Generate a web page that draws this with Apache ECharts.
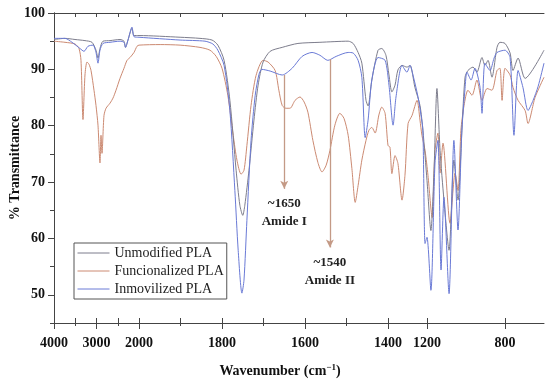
<!DOCTYPE html>
<html><head><meta charset="utf-8">
<script src="https://cdn.jsdelivr.net/npm/echarts@6/dist/echarts.min.js"></script>
<style>html,body{margin:0;padding:0;background:#fff}#c{width:550px;height:380px}</style>
</head><body><div id="c"></div>
<script>
// ---- data (wavenumber cm-1, % transmittance) ----
const seriesNames = ['Unmodified PLA', 'Funcionalized PLA', 'Inmovilized PLA'];
const unmodWn = [4000,3741,3506,3271,3106,3012,2965,2918,2847,2682,2447,2353,2318,2259,2165,2118,2000,1901,1853,1824,1810,1795,1781,1766,1757,1750,1745,1735,1723,1713,1701,1684,1655,1617,1564,1496,1484,1472,1463,1453,1448,1439,1424,1415,1405,1395,1380,1364,1349,1328,1303,1287,1262,1236,1221,1200,1180,1164,1149,1133,1113,1087,1062,1041,1021,1005,990,964,944,918,903,887,867,841,826,800,774,759,733,697,600];
const unmodT  = [95.3,95.5,95.3,95.1,94.8,93.4,92.0,93.7,95.0,95.1,95.3,95.0,93.9,95.2,97.3,96.0,96.0,95.7,95.5,95.2,94.3,91.6,84.5,72.1,65.9,64.1,65.9,72.1,81.0,87.2,91.3,93.2,93.9,94.6,94.8,95.0,94.6,93.0,91.1,84.5,83.5,88.1,93.4,93.7,92.5,89.0,86.0,87.2,89.9,90.7,90.4,90.7,86.8,83.6,79.2,70.3,61.4,72.0,86.6,75.6,66.8,57.9,73.9,66.8,79.2,88.6,89.8,90.4,89.5,92.1,90.7,91.6,88.6,93.9,94.8,94.6,92.9,89.8,92.0,88.4,93.4];

const funcWn = [4000,3741,3506,3412,3365,3318,3271,3224,3176,3129,3059,3012,2965,2918,2894,2871,2824,2776,2682,2612,2541,2447,2353,2282,2212,2118,2047,2000,1949,1901,1853,1829,1814,1800,1786,1773,1764,1754,1747,1740,1730,1718,1701,1689,1672,1663,1655,1646,1636,1624,1612,1602,1593,1581,1569,1559,1549,1540,1528,1516,1506,1496,1487,1479,1472,1463,1453,1446,1439,1431,1422,1415,1407,1400,1390,1380,1364,1349,1328,1313,1297,1277,1251,1236,1226,1210,1195,1174,1159,1144,1133,1118,1082,1056,1041,1026,1010,990,969,944,918,892,867,841,826,815,800,774,759,733,697,682,646,600];
const funcT  = [95.0,94.8,94.5,93.7,91.6,81.1,89.0,91.3,90.9,89.8,86.3,83.6,80.1,73.4,78.3,75.1,81.8,83.1,84.0,84.9,86.3,88.4,90.2,91.6,92.1,93.0,94.1,94.3,94.4,94.3,93.9,93.4,92.3,90.2,85.4,78.3,73.9,71.4,72.1,76.5,83.6,88.9,91.6,91.3,89.8,86.3,83.6,83.1,83.1,84.5,85.1,84.2,82.4,77.4,73.5,71.8,73.0,75.6,80.1,82.2,81.3,78.3,72.4,66.4,69.4,73.9,77.4,79.2,79.7,78.7,81.9,83.3,82.2,76.5,76.2,71.5,74.7,73.3,66.8,71.2,80.4,81.8,84.5,81.0,78.3,75.6,71.2,63.7,75.6,78.7,71.6,76.9,62.7,71.6,68.5,79.2,83.6,86.3,85.4,88.1,84.5,86.6,86.3,89.8,90.2,84.5,90.2,89.0,86.8,84.5,82.7,80.4,85.0,88.6];

const immWn = [4000,3741,3576,3388,3294,3200,3082,3012,2965,2918,2847,2682,2447,2353,2318,2259,2165,2118,2000,1901,1841,1822,1810,1795,1781,1769,1761,1752,1747,1740,1730,1720,1711,1704,1684,1655,1631,1607,1583,1564,1545,1525,1496,1484,1472,1463,1455,1448,1439,1424,1407,1395,1374,1359,1328,1303,1287,1272,1246,1231,1221,1210,1200,1180,1159,1144,1128,1113,1087,1062,1041,1021,1005,995,974,954,928,918,903,877,856,841,800,774,754,733,708,682,656,630,600];
const immT  = [95.5,95.5,94.8,93.7,93.2,94.1,94.3,93.0,91.1,93.4,94.6,94.8,95.0,94.8,93.9,95.2,97.5,95.8,95.7,95.2,95.0,94.5,93.4,90.7,82.7,68.5,57.9,50.3,52.6,63.2,77.4,85.4,89.1,90.0,89.7,89.0,90.2,92.3,93.0,92.5,91.6,92.3,93.0,92.9,91.6,88.6,77.9,81.0,88.1,92.1,91.6,87.2,80.1,85.1,90.7,89.5,90.7,89.0,85.1,81.9,79.2,59.1,60.2,50.8,73.4,77.4,54.4,67.3,50.2,77.4,61.5,79.2,86.6,89.5,88.1,90.2,86.8,82.2,91.1,89.8,92.0,93.0,93.4,92.1,78.3,89.8,86.8,82.7,84.5,87.0,91.1];

const xMajorTicks = [4000,3000,2000,1800,1600,1400,1200,800];
const xMinorTicks = [3500,2500,1900,1700,1500];
const yMajorTicks = [50,60,70,80,90,100];
const amideWn = [1650, 1540];
const amideFromT = [89.0, 91.8];
const amideToT = [68.8, 58.4];
const amideText = ['~1650\nAmide I', '~1540\nAmide II'];

// ---- piecewise axis scale (compressed above 2000 and below 1400) ----
function f(wn){
  if (wn >= 2000) return (4000 - wn) * 0.0425;
  if (wn >= 1400) return 85 + (2000 - wn) * 0.415;
  return 334 + (1400 - wn) * 0.195;
}
function finv(u){
  if (u <= 85) return 4000 - u / 0.0425;
  if (u <= 334) return 2000 - (u - 85) / 0.415;
  return 1400 - (u - 334) / 0.195;
}
const pair = (wn, t) => wn.map((w, i) => [f(w), t[i]]);

const FONT = 'Liberation Serif';
const axisCol = '#444';
const xmin = f(4000), xmax = f(600);
const allX = xMajorTicks.concat(xMinorTicks).map(f);

const chart = echarts.init(document.getElementById('c'), null, {renderer:'canvas'});
chart.setOption({
  animation: false,
  backgroundColor: '#fff',
  grid: {left: 54, right: 6, top: 13, bottom: 57, containLabel: false, outerBoundsMode: 'none'},
  legend: {
    orient: 'vertical', left: 74, top: 243,
    data: seriesNames,
    borderColor: '#555', borderWidth: 1, borderRadius: 0,
    padding: [3, 3, 3, 3],
    itemWidth: 32, itemHeight: 10, itemGap: 4,
    itemStyle: {opacity: 0},
    lineStyle: {width: 1},
    textStyle: {fontFamily: FONT, fontSize: 14, color: '#222'}
  },
  xAxis: [
    {type:'value', min:xmin, max:xmax, position:'bottom',
     axisLine:{show:true, lineStyle:{color:axisCol}},
     axisTick:{show:true, customValues: xMajorTicks.map(f), length:6, lineStyle:{color:axisCol}},
     axisLabel:{customValues: xMajorTicks.map(f), formatter: v => String(Math.round(finv(v)/100)*100),
       fontFamily:FONT, fontWeight:'bold', fontSize:14, color:'#111', margin:13},
     splitLine:{show:false},
     name:'Wavenumber (cm{s|−1})', nameLocation:'middle', nameGap:40,
     nameTextStyle:{fontFamily:FONT, fontWeight:'bold', fontSize:14, color:'#111', padding:[0,38,0,0],
       rich:{s:{fontFamily:FONT, fontWeight:'bold', fontSize:9, color:'#111', verticalAlign:'top', padding:[0,0,8,0]}}}
    },
    {type:'value', min:xmin, max:xmax, position:'bottom',
     axisLine:{show:false}, axisLabel:{show:false}, splitLine:{show:false},
     axisTick:{show:true, inside:true, customValues: allX, length:5, lineStyle:{color:axisCol}}},
    {type:'value', min:xmin, max:xmax, position:'bottom',
     axisLine:{show:false}, axisLabel:{show:false}, splitLine:{show:false},
     axisTick:{show:true, customValues: xMinorTicks.map(f), length:3, lineStyle:{color:axisCol}}},
    {type:'value', min:xmin, max:xmax, position:'top',
     axisLine:{show:true, lineStyle:{color:axisCol}}, axisLabel:{show:false}, splitLine:{show:false},
     axisTick:{show:true, inside:true, customValues: allX, length:4, lineStyle:{color:axisCol}}}
  ],
  yAxis: [
    {type:'value', min:45, max:100, interval:5, position:'left',
     axisLine:{show:true, lineStyle:{color:axisCol}},
     axisTick:{show:true, customValues: yMajorTicks, length:6, lineStyle:{color:axisCol}},
     axisLabel:{customValues: yMajorTicks, fontFamily:FONT, fontWeight:'bold', fontSize:14, color:'#111', margin:9},
     splitLine:{show:false},
     name:'% Transmittance', nameLocation:'middle', nameGap:32, nameRotate:90, nameMoveOverlap:false,
     nameTextStyle:{fontFamily:FONT, fontWeight:'bold', fontSize:14, color:'#111'}},
    {type:'value', min:45, max:100, interval:5, position:'left',
     axisLine:{show:false}, axisLabel:{show:false}, splitLine:{show:false},
     axisTick:{show:true, length:3, lineStyle:{color:axisCol}}},
    {type:'value', min:45, max:100, interval:5, position:'right',
     axisLine:{show:true, lineStyle:{color:axisCol}}, axisLabel:{show:false}, splitLine:{show:false},
     axisTick:{show:true, inside:true, length:4, lineStyle:{color:axisCol}}}
  ],
  series: [
    {name: seriesNames[0], type:'line', data: pair(unmodWn, unmodT), symbol:'none', smooth:0.25,
     lineStyle:{width:1, color:'#7d7d8c'}, itemStyle:{color:'#7d7d8c'}, z:3},
    {name: seriesNames[1], type:'line', data: pair(funcWn, funcT), symbol:'none', smooth:0.25,
     lineStyle:{width:1, color:'#cc8a72'}, itemStyle:{color:'#cc8a72'}, z:2},
    {name: seriesNames[2], type:'line', data: pair(immWn, immT), symbol:'none', smooth:0.25,
     lineStyle:{width:1, color:'#6a7ad6'}, itemStyle:{color:'#6a7ad6'}, z:4,
     markLine:{
       silent:true, symbol:['none','arrow'], symbolSize:[6,8], animation:false,
       lineStyle:{color:'#c49a86', width:1.3, type:'solid'},
       emphasis:{disabled:true},
       label:{show:true, position:'end', distance:6, fontFamily:FONT, fontWeight:'bold', fontSize:13,
         lineHeight:18, color:'#222', align:'center'},
       data: amideWn.map((w, i) => [
         {coord:[f(w), amideFromT[i]], label:{formatter: amideText[i]}},
         {coord:[f(w), amideToT[i]]}
       ])
     }}
  ]
});
</script></body></html>
